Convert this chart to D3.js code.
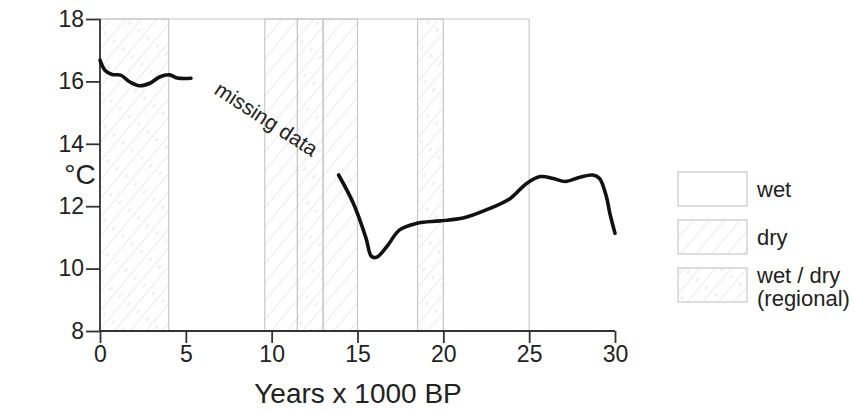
<!DOCTYPE html>
<html><head><meta charset="utf-8">
<script src="https://cdn.jsdelivr.net/npm/d3@7"></script>
<style>body{margin:0;background:#fff}svg{display:block}text{font-family:"Liberation Sans",Arial,sans-serif;fill:#222}</style>
</head><body><svg id="c" width="854" height="412"></svg>
<script>
const xTicks = [0,5,10,15,20,25,30];
const yTicks = [8,10,12,14,16,18];
const bandStart = [0, 9.6, 11.5, 13, 18.5];
const bandEnd   = [4, 11.5, 13, 15, 20];
const bandType  = ["regional","dry","regional","dry","regional"];
const seg1X = [0,0.3,0.7,1.2,1.75,2.3,2.9,3.5,4.05,4.5,5.3];
const seg1Y = [16.68,16.35,16.22,16.2,15.98,15.86,15.94,16.15,16.21,16.11,16.1];
const seg2X = [13.9,14.75,15.5,15.8,16.1,16.7,17.45,18.45,19.8,21.15,22.5,23.9,24.85,25.65,26.4,27.1,27.95,28.7,29.1,29.5,29.7,30.0];
const seg2Y = [13.0,12.1,10.97,10.4,10.36,10.7,11.24,11.45,11.53,11.62,11.88,12.25,12.73,12.95,12.89,12.79,12.93,13.0,12.89,12.3,11.77,11.13];
const legendLabels = [["wet"],["dry"],["wet / dry","(regional)"]];
const legendType = ["wet","dry","regional"];
const xLabel = "Years x 1000 BP";
const yLabel = "°C";
const note = "missing data";

const svg = d3.select("#c");
const x = d3.scaleLinear().domain([0,30]).range([100,615]);
const y = d3.scaleLinear().domain([8,18]).range([331,19]);
const grey = "#c8c8c8";

const defs = svg.append("defs");
function mkPattern(id, dashes){
  const p = defs.append("pattern").attr("id",id).attr("patternUnits","userSpaceOnUse")
    .attr("width",12).attr("height",24).attr("patternTransform","rotate(40)");
  p.append("line").attr("x1",0).attr("y1",0).attr("x2",0).attr("y2",24).attr("stroke","#dadada").attr("stroke-width",1.1);
  if(dashes){
    p.append("line").attr("x1",6).attr("y1",4).attr("x2",6).attr("y2",8).attr("stroke","#e0e0e0").attr("stroke-width",1.1);
  }
}
mkPattern("dry", false);
mkPattern("regional", true);

// bands
const bands = bandStart.map((s,i)=>({s, e:bandEnd[i], t:bandType[i]}));
svg.append("g").selectAll("rect").data(bands).join("rect")
  .attr("x",d=>x(d.s)).attr("width",d=>x(d.e)-x(d.s))
  .attr("y",y(18)).attr("height",y(8)-y(18))
  .attr("fill",d=>`url(#${d.t})`).attr("stroke",grey).attr("stroke-width",1.2);
svg.append("line").attr("x1",x(0)).attr("x2",x(25)).attr("y1",y(18)).attr("y2",y(18)).attr("stroke",grey).attr("stroke-width",1.2);
svg.append("line").attr("x1",x(25)).attr("x2",x(25)).attr("y1",y(18)).attr("y2",y(8)).attr("stroke",grey).attr("stroke-width",1.2);

// axes
const xAxis = svg.append("g").attr("transform",`translate(0,${y(8)})`)
  .call(d3.axisBottom(x).tickValues(xTicks).tickSize(12).tickPadding(3).tickFormat(d3.format("d")));
const yAxis = svg.append("g").attr("transform",`translate(${x(0)},0)`)
  .call(d3.axisLeft(y).tickValues(yTicks).tickSize(14).tickPadding(2).tickFormat(d3.format("d")));
[xAxis,yAxis].forEach(a=>{
  a.select(".domain").attr("stroke","#333").attr("stroke-width",1.8);
  a.selectAll(".tick line").attr("stroke","#333").attr("stroke-width",1.8);
  a.selectAll(".tick text").attr("font-size",23).attr("fill","#222").attr("font-family",'"Liberation Sans",Arial,sans-serif');
});
xAxis.select(".domain").attr("d",`M${x(0)},0H${x(30)}`);
yAxis.select(".domain").attr("d",`M0,${y(8)}V${y(18)}`);

svg.append("text").attr("x",358).attr("y",403).attr("text-anchor","middle").attr("font-size",28).text(xLabel);
svg.append("text").attr("x",80).attr("y",184).attr("text-anchor","middle").attr("font-size",28).text(yLabel);

// curves
const line = d3.line().x(d=>x(d[0])).y(d=>y(d[1])).curve(d3.curveCatmullRom.alpha(0.5));
[[seg1X,seg1Y],[seg2X,seg2Y]].forEach(([xs,ys])=>{
  svg.append("path").attr("d",line(xs.map((v,i)=>[v,ys[i]])))
    .attr("fill","none").attr("stroke","#111").attr("stroke-width",3.6).attr("stroke-linecap","round").attr("stroke-linejoin","round");
});

svg.append("text").attr("transform","translate(213,93) rotate(33)").attr("font-size",21).text(note);

// legend
const lg = svg.append("g");
legendType.forEach((t,i)=>{
  const yy = 172 + i*48;
  lg.append("rect").attr("x",678).attr("y",yy).attr("width",69).attr("height",34)
    .attr("fill", t==="wet" ? "#fff" : `url(#${t})`).attr("stroke",grey).attr("stroke-width",1.2);
  const lines = legendLabels[i];
  lines.forEach((s,j)=>{
    lg.append("text").attr("x",757).attr("y", lines.length===1 ? yy+25 : yy+15+j*23).attr("font-size",22).text(s);
  });
});
</script></body></html>
